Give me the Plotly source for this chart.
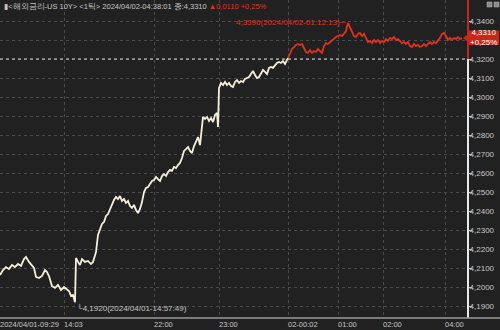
import plotly.graph_objects as go

# ---------------- data ----------------
white_idx = [0, 3, 6, 9, 12, 15, 18, 21, 24, 26, 29, 32, 34, 36, 39, 42, 45, 47, 49, 52,
             55, 58, 61, 64, 67, 69, 71, 73, 75, 76, 78, 80, 82, 85, 88, 91, 93, 96, 98, 100,
             102, 104, 106, 108, 110, 112, 114, 116, 118, 120, 122, 124, 126, 128, 130, 132, 134, 136, 138, 140,
             142, 144, 146, 148, 150, 152, 154, 156, 158, 160, 162, 164, 166, 168, 170, 172, 174, 176, 178, 180,
             182, 184, 186, 188, 190, 192, 194, 196, 198, 200, 202, 203, 205, 207, 209, 211, 213, 215, 217, 218,
             219, 221, 223, 225, 227, 229, 231, 233, 235, 237, 239, 241, 243, 245, 247, 249, 251, 253, 255, 257,
             259, 261, 263, 265, 267, 269, 271, 273, 275, 277, 279, 281, 283, 285, 287, 288]
white_price = [4.2063, 4.2089, 4.2105, 4.2095, 4.2116, 4.2105, 4.2121, 4.2111, 4.2147, 4.2158,
               4.2132, 4.2116, 4.2100, 4.2053, 4.2047, 4.2058, 4.2089, 4.2079, 4.2058, 4.2005,
               4.1995, 4.2011, 4.1984, 4.2000, 4.1989, 4.1979, 4.1953, 4.1958, 4.1920, 4.2153,
               4.2132, 4.2116, 4.2147, 4.2132, 4.2137, 4.2121, 4.2132, 4.2184, 4.2274, 4.2300,
               4.2332, 4.2342, 4.2374, 4.2384, 4.2411, 4.2432, 4.2458, 4.2474, 4.2463, 4.2479,
               4.2453, 4.2463, 4.2442, 4.2453, 4.2426, 4.2416, 4.2432, 4.2405, 4.2389, 4.2411,
               4.2447, 4.2500, 4.2521, 4.2526, 4.2542, 4.2558, 4.2563, 4.2579, 4.2568, 4.2558,
               4.2584, 4.2595, 4.2584, 4.2605, 4.2616, 4.2611, 4.2632, 4.2626, 4.2642, 4.2653,
               4.2679, 4.2716, 4.2726, 4.2737, 4.2716, 4.2705, 4.2742, 4.2763, 4.2789, 4.2747,
               4.2853, 4.2895, 4.2884, 4.2895, 4.2874, 4.2889, 4.2868, 4.2905, 4.2916, 4.2842,
               4.3047, 4.3074, 4.3063, 4.3079, 4.3063, 4.3074, 4.3058, 4.3053, 4.3079, 4.3089,
               4.3074, 4.3084, 4.3079, 4.3095, 4.3100, 4.3105, 4.3121, 4.3137, 4.3116, 4.3100,
               4.3105, 4.3121, 4.3142, 4.3132, 4.3121, 4.3153, 4.3158, 4.3153, 4.3168, 4.3179,
               4.3184, 4.3179, 4.3189, 4.3174, 4.3195, 4.3205]

red_idx = [288, 290, 292, 294, 296, 298, 300, 302, 304, 306, 308, 310, 312, 314, 316, 318, 320, 322, 324, 326,
           328, 330, 332, 334, 336, 338, 340, 342, 344, 346, 348, 350, 352, 354, 356, 358, 360, 362, 364, 366,
           368, 370, 372, 374, 376, 378, 380, 382, 384, 386, 388, 390, 392, 394, 396, 398, 400, 402, 404, 406,
           408, 410, 412, 414, 416, 418, 420, 422, 424, 426, 428, 430, 432, 434, 436, 438, 440, 442, 444, 446,
           448, 450, 452, 454, 456, 458, 460, 462]
red_price = [4.3205, 4.3232, 4.3253, 4.3263, 4.3274, 4.3279, 4.3274, 4.3279, 4.3253, 4.3237,
             4.3232, 4.3247, 4.3232, 4.3242, 4.3237, 4.3253, 4.3242, 4.3232, 4.3268, 4.3284,
             4.3279, 4.3289, 4.3300, 4.3305, 4.3316, 4.3321, 4.3326, 4.3321, 4.3337, 4.3347,
             4.3390, 4.3368, 4.3347, 4.3321, 4.3316, 4.3332, 4.3337, 4.3321, 4.3332, 4.3311,
             4.3289, 4.3295, 4.3284, 4.3300, 4.3289, 4.3300, 4.3284, 4.3295, 4.3289, 4.3305,
             4.3295, 4.3311, 4.3305, 4.3316, 4.3300, 4.3305, 4.3295, 4.3284, 4.3289, 4.3279,
             4.3289, 4.3268, 4.3263, 4.3279, 4.3268, 4.3274, 4.3263, 4.3268, 4.3279, 4.3268,
             4.3279, 4.3289, 4.3279, 4.3289, 4.3284, 4.3295, 4.3311, 4.3332, 4.3337, 4.3321,
             4.3300, 4.3311, 4.3300, 4.3311, 4.3305, 4.3316, 4.3305, 4.3310]

x_tick_pos = [0, 64, 154, 219, 288, 338, 383, 445]
x_tick_text = ["2024/04/01-09:29", "14:03", "22:00", "23:00", "02-00:02", "01:00", "02:00", "04:00"]
y_tick_vals = [4.19, 4.20, 4.21, 4.22, 4.23, 4.24, 4.25, 4.26, 4.27, 4.28, 4.29, 4.30, 4.31, 4.32, 4.33, 4.34]

prev_close = 4.32
last_price = 4.3310
change = 0.0110
change_pct = 0.25
max_idx, max_price, max_time = 348, 4.3390, "2024/04/02-01:12:13"
min_idx, min_price, min_time = 75, 4.1920, "2024/04/01-14:57:49"
header_title = "▮&lt;해외금리-US 10Y&gt; &lt;1틱&gt; 2024/04/02-04:38:01 종:4,3310"

# ---------------- style ----------------
BG = "#212121"
WHITE_LINE = "#f4f0dc"
RED = "#e0321e"
TXT = "#c8c8c8"
GRID = "#4a4a4a"
FONT = "Liberation Sans Narrow, Liberation Sans, DejaVu Sans"

W, H = 500, 330
ML, MR, MT, MB = 0, 32, 0, 12
PW, PH = W - ML - MR, H - MT - MB

def fmt(v, d=4):
    return f"{v:.{d}f}".replace(".", ",")

# y tick labels (label under the last-price box is hidden, as in the reference)
y_tick_text = ["" if abs(v - last_price) < 0.005 else fmt(v) for v in y_tick_vals]

fig = go.Figure()
fig.add_trace(go.Scatter(x=white_idx, y=white_price, mode="lines",
                         line=dict(color=WHITE_LINE, width=1.8), hoverinfo="skip"))
fig.add_trace(go.Scatter(x=red_idx, y=red_price, mode="lines",
                         line=dict(color=RED, width=1.8), hoverinfo="skip"))

# previous close dashed line
fig.add_shape(type="line", xref="x", yref="y", x0=0, x1=PW, y0=prev_close, y1=prev_close,
              line=dict(color="#dddddd", width=1, dash="dot"), layer="above")

# right axis line: red above prev close, white below
fig.add_shape(type="line", xref="paper", yref="y", x0=1.0, x1=1.0, y0=prev_close, y1=4.40,
              line=dict(color="#c0281c", width=2), layer="above")
fig.add_shape(type="line", xref="paper", yref="y", x0=1.0, x1=1.0, y0=4.10, y1=prev_close,
              line=dict(color="#e8e8e8", width=2), layer="above")
# bottom axis line across full width
fig.add_shape(type="line", xref="paper", yref="paper", x0=0, x1=W / PW, y0=0, y1=0,
              line=dict(color="#9a9a9a", width=1.5), layer="above")

# last price box
bx0, bx1 = 1.0 + 1 / PW, 1.0 + 31 / PW
fig.add_shape(type="rect", xref="paper", yref="y", x0=bx0, x1=bx1,
              y0=last_price - 0.0036, y1=last_price + 0.0040,
              fillcolor="#c8281a", line=dict(width=0), layer="above")
fig.add_shape(type="path", xref="paper", yref="y",
              path=f"M {1.0 - 5 / PW} {last_price} L {bx0} {last_price + 0.0025} L {bx0} {last_price - 0.0025} Z",
              fillcolor="#c8281a", line=dict(width=0), layer="above")
fig.add_annotation(xref="paper", yref="y", x=(bx0 + bx1) / 2, y=last_price + 0.0002,
                   text=f"{fmt(last_price)}<br>+{fmt(change_pct, 2)}%", showarrow=False,
                   font=dict(family=FONT, size=8, color="#ffffff"), xanchor="center", yanchor="middle")

# header
fig.add_annotation(xref="paper", yref="paper", x=0, y=1, xanchor="left", yanchor="top", yshift=0, xshift=2,
                   text=f"{header_title} <span style='color:{RED}'>▲{fmt(change)} +{fmt(change_pct, 2)}%</span>",
                   showarrow=False, font=dict(family=FONT, size=7.5, color=TXT))

# max / min annotations
fig.add_annotation(xref="x", yref="y", x=max_idx, y=max_price, xanchor="right", yanchor="middle",
                   text=f"{fmt(max_price)}({max_time})─", showarrow=False,
                   font=dict(family=FONT, size=8, color=RED))
fig.add_annotation(xref="x", yref="y", x=min_idx, y=min_price, xanchor="left", yanchor="top", yshift=1,
                   text=f"└{fmt(min_price)}({min_time})", showarrow=False,
                   font=dict(family=FONT, size=8, color=TXT))

# top-right icons
for x0 in (487, 494):
    fig.add_shape(type="rect", xref="paper", yref="paper", x0=x0 / PW, x1=(x0 + 5) / PW,
                  y0=(H - MB - 7) / PH, y1=(H - MB - 2) / PH,
                  fillcolor="#8a8a8a", line=dict(color="#bbbbbb", width=0.5), layer="above")

fig.update_layout(
    width=W, height=H, margin=dict(l=ML, r=MR, t=MT, b=MB),
    paper_bgcolor=BG, plot_bgcolor=BG, showlegend=False,
    separators=",.",
    font=dict(family=FONT, size=8, color=TXT),
    xaxis=dict(range=[0, PW], tickvals=x_tick_pos, ticktext=x_tick_text,
               ticklabelposition="outside right", showgrid=True, gridcolor=GRID, griddash="dot",
               gridwidth=1, zeroline=False, showline=False, ticks="",
               tickfont=dict(family=FONT, size=7.5, color=TXT), fixedrange=True),
    yaxis=dict(range=[4.32 - 259 / 1900, 4.32 + 59 / 1900], side="right", tickvals=y_tick_vals,
               ticktext=y_tick_text, showgrid=True, gridcolor=GRID, griddash="dot", gridwidth=1,
               zeroline=False, showline=False, ticks="outside", ticklen=3, tickcolor="#bbbbbb",
               ticklabelstandoff=-4,
               tickfont=dict(family=FONT, size=8, color=TXT), fixedrange=True),
)

fig.write_html("out.html")
